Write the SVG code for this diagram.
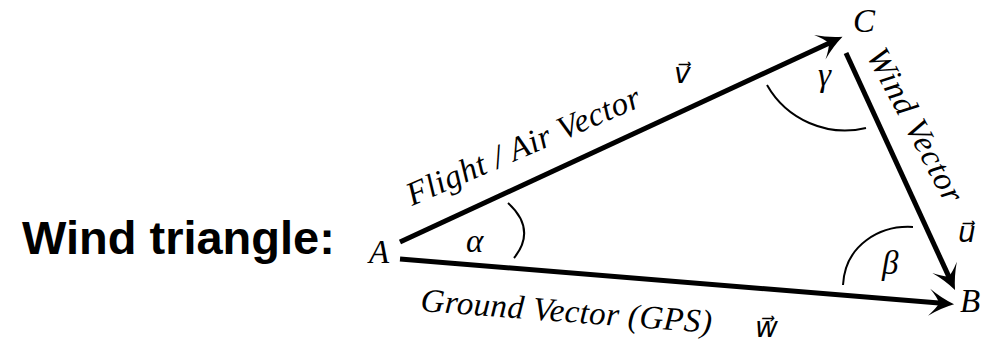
<svg xmlns="http://www.w3.org/2000/svg" width="983" height="349" viewBox="0 0 983 349">
  <style>
    .vec { stroke: #000; stroke-width: 5; fill: none; stroke-linecap: butt; marker-end: url(#arrow); }
    .arc { stroke: #000; stroke-width: 2; fill: none; }
    .it { font-family: "Liberation Serif", "DejaVu Serif", serif; font-style: italic; font-size: 33px; fill: #000; }
    .vl { font-family: "DejaVu Sans", sans-serif; font-style: italic; font-size: 28px; fill: #000; }
    .title { font-family: "Liberation Sans", Arial, sans-serif; font-weight: bold; font-size: 47px; fill: #000; }
  </style>
  <defs>
    <marker id="arrow" markerUnits="userSpaceOnUse" orient="auto" refX="0" refY="0" markerWidth="40" markerHeight="40" overflow="visible">
      <path d="M12,0 Q-1,-5 -13,-13.5 Q-5,-5 -3,0 Q-5,5 -13,13.5 Q-1,5 12,0 Z" fill="#000"/>
    </marker>
  </defs>
  <rect width="983" height="349" fill="#fff"/>

  <g id="title">
    <text class="title" x="22" y="254">Wind triangle:</text>
  </g>

  <g id="connectors">
    <line id="edge-A-C" class="vec" x1="400" y1="242" x2="831.6" y2="41.9"/>
    <line id="edge-C-B" class="vec" x1="846" y1="53" x2="950" y2="279.1"/>
    <line id="edge-A-B" class="vec" x1="400" y1="259" x2="942.1" y2="303.3"/>
  </g>

  <g id="angles">
    <path id="angle-alpha" class="arc" d="M508,203 Q537,229.5 514,258"/>
    <path id="angle-gamma" class="arc" d="M767,85 A90,90 0 0 0 866,128"/>
    <path id="angle-beta" class="arc" d="M913,227 C880,225 845,245 843,285"/>
    <text class="it" x="466" y="252">α</text>
    <text class="it" x="818" y="86">γ</text>
    <text class="it" x="882" y="274">β</text>
  </g>

  <g id="node-A">
    <text class="it" x="369" y="263">A</text>
  </g>
  <g id="node-B">
    <text class="it" x="960" y="312">B</text>
  </g>
  <g id="node-C">
    <text class="it" x="853" y="32">C</text>
  </g>

  <g id="edge-labels">
    <text class="it" font-size="34" textLength="252" transform="translate(412,206) rotate(-23.5)">Flight / Air Vector</text>
    <text class="vl" x="674" y="83">v⃗</text>
    <text class="it" textLength="170" transform="translate(866,55) rotate(62)">Wind Vector</text>
    <text class="vl" x="958" y="242">u⃗</text>
    <text class="it" font-size="34" textLength="292" transform="translate(420,311) rotate(4.3)">Ground Vector (GPS)</text>
    <text class="vl" x="755" y="337">w⃗</text>
  </g>
</svg>
